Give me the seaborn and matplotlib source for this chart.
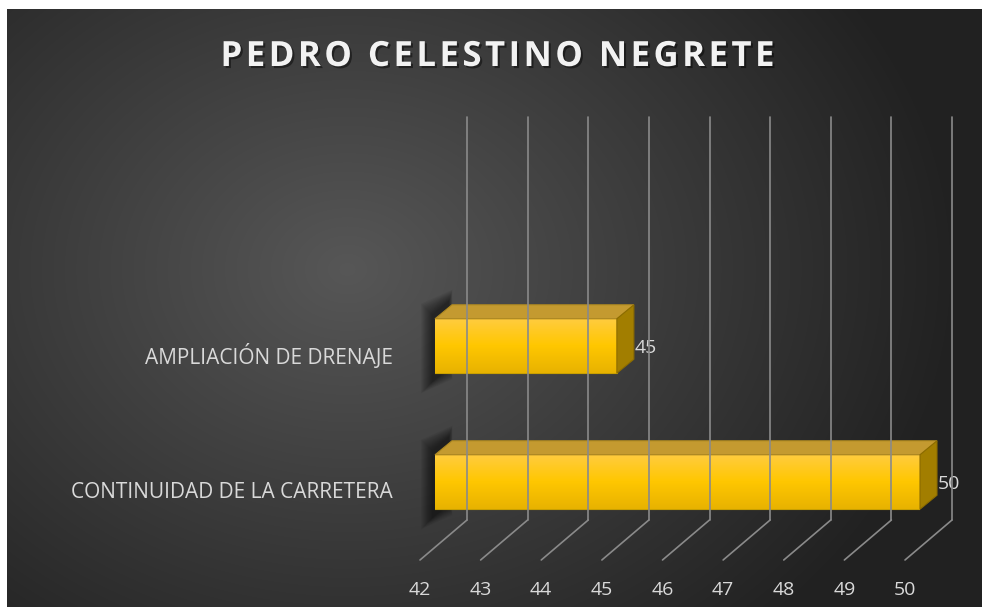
import matplotlib
matplotlib.use("Agg")
import matplotlib.pyplot as plt
import matplotlib.transforms as mtransforms
import matplotlib.patheffects as pe
from matplotlib.patches import Polygon
import numpy as np
import pandas as pd
import seaborn as sns

categories = ["AMPLIACIÓN DE DRENAJE", "CONTINUIDAD DE LA CARRETERA"]
values = [45, 50]
ticks = [42, 43, 44, 45, 46, 47, 48, 49, 50]
title = "PEDRO CELESTINO NEGRETE"

df = pd.DataFrame({"Categoria": categories, "Valor": values})

sns.set_theme(style="white")
plt.rcParams["font.family"] = ["Open Sans", "DejaVu Sans"]

W, H = 982, 607
fig = plt.figure(figsize=(W / 100, H / 100), dpi=100, facecolor="white")

# dark radial background
bg = fig.add_axes([7 / W, 0, 975 / W, 598 / H])
bg.set_axis_off()
yy, xx = np.mgrid[0:598, 0:975]
r = np.sqrt(((xx - 340) / 700) ** 2 + ((yy - 260) / 560) ** 2)
shade = np.clip(0.34 - 0.24 * r, 0.13, 0.34)
bg.imshow(np.dstack([shade] * 3), aspect="auto", extent=[0, 1, 0, 1])
bg.set_xlim(0, 1)
bg.set_ylim(0, 1)

# main axes: x maps 42 -> 435 px, 50 -> 920 px (front plane of the bars)
x0, x1 = 435, 920
top_px, bot_px = 117, 560
ax = fig.add_axes([x0 / W, (H - bot_px) / H, (x1 - x0) / W, (bot_px - top_px) / H])
ax.patch.set_alpha(0)

sns.barplot(data=df, x="Valor", y="Categoria", orient="h", width=0.4,
            color="#FFC800", ax=ax, zorder=3)
xmin = ticks[0]
ax.set_xlim(xmin, ticks[-1])
unit = 136.0
ax.set_ylim(1 + (bot_px - 482) / unit, 0 - (346 - top_px) / unit)
ax.set_autoscale_on(False)
ax.set_axis_off()


def shifted(dx, dy):
    return ax.transData + mtransforms.ScaledTranslation(dx / 100, dy / 100, fig.dpi_scale_trans)


# back wall gridlines, floor diagonals, tick labels
grid_col = "#8a8a8a"
inv_fig = fig.transFigure.inverted()
for t in ticks:
    tr = mtransforms.blended_transform_factory(ax.transData, fig.transFigure) + \
        mtransforms.ScaledTranslation(32 / 100, 0, fig.dpi_scale_trans)
    fig.add_artist(plt.Line2D([t, t], [(H - 117) / H, (H - 520) / H], transform=tr,
                              color=grid_col, lw=1.2, zorder=1))
    p0 = tr.transform((t, (H - 520) / H))
    p1 = p0 + np.array([-47, -40])
    q0, q1 = inv_fig.transform(p0), inv_fig.transform(p1)
    fig.add_artist(plt.Line2D([q0[0], q1[0]], [q0[1], q1[1]], color=grid_col, lw=1.2, zorder=1))
    fig.text(q1[0], 17 / H, str(t), ha="center", va="center", color="#d9d9d9", fontsize=14)

# 3D bars built from the seaborn patches
dx, dy = 17, 14
cols = np.array([[1.0, 0.80, 0.25], [1.0, 0.78, 0.0], [0.91, 0.70, 0.0]])
g = np.linspace(0, 1, 64)
img = np.stack([np.interp(g, [0, 0.5, 1], cols[:, c]) for c in range(3)], axis=-1)[:, None, :]
inv = ax.transData.inverted()

for bar, v in zip(ax.patches, values):
    y, h = bar.get_y(), bar.get_height()
    x = max(bar.get_x(), xmin)
    w = v - x
    tl = ax.transData.transform((x, y))
    bl = ax.transData.transform((x, y + h))
    trp = ax.transData.transform((x + w, y))
    br = ax.transData.transform((x + w, y + h))
    # blurred shadow of the left end face
    end_face = np.array([bl, tl, tl + [dx, dy], bl + [dx, dy]])
    for k in range(12):
        grow = 11 - k
        shp = end_face + np.array([[-3 - grow, -9 - grow], [-3 - grow, 4 + grow],
                                   [-3 + grow * 0.3, 4 + grow], [-3 + grow * 0.3, -9 - grow]])
        s = Polygon(inv.transform(shp), closed=True, facecolor="black", alpha=0.05,
                    lw=0, zorder=2, clip_on=False)
        ax.add_patch(s)
    bar.set_facecolor("#FFC800")
    bar.set_edgecolor("#C9A000")
    bar.set_linewidth(0.8)
    bar.set_zorder(3)
    top = Polygon(inv.transform([tl, trp, trp + [dx, dy], tl + [dx, dy]]), closed=True,
                  facecolor="#C49A30", edgecolor="#B08A20", lw=0.8, zorder=4, clip_on=False)
    ax.add_patch(top)
    side = Polygon(inv.transform([trp, trp + [dx, dy], br + [dx, dy], br]), closed=True,
                   facecolor="#A27E00", edgecolor="#8c6c00", lw=0.8, zorder=4, clip_on=False)
    ax.add_patch(side)
    im = ax.imshow(img, extent=[x, x + w, y + h, y], aspect="auto", zorder=3.5)
    im.set_clip_path(bar)
    ax.text(v, y + h / 2, f"{v}", transform=shifted(dx + 1, dy / 2 - 9),
            ha="left", va="center", color="#d9d9d9", fontsize=14, zorder=5, clip_on=False)

# category labels
for i, cat in enumerate(categories):
    ypx = ax.transData.transform((xmin, i))[1]
    fig.text(393 / W, (ypx - 10) / H, cat, ha="right", va="center",
             color="#d9d9d9", fontsize=15)

spaced = "\u200a".join(title)
fig.text(498 / W, (H - 57) / H, spaced, ha="center", va="center", color="#f2f2f2",
         fontsize=25, fontweight="bold",
         path_effects=[pe.withSimplePatchShadow(offset=(1.5, -1.5), shadow_rgbFace="black", alpha=0.45)])

fig.savefig("out.png", dpi=100)
